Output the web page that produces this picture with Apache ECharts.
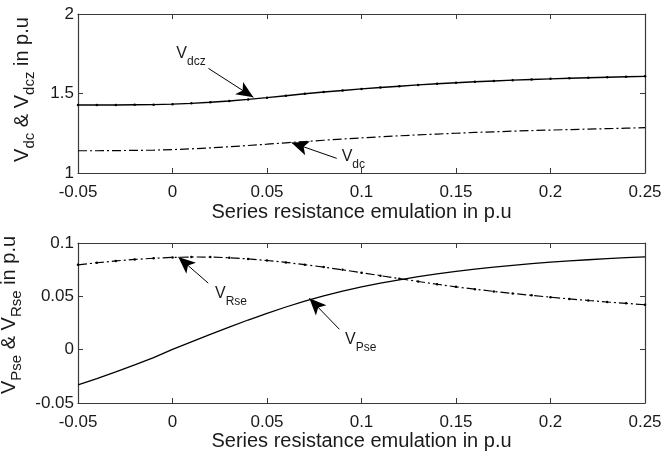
<!DOCTYPE html>
<html>
<head>
<meta charset="utf-8">
<script src="https://cdn.jsdelivr.net/npm/echarts@6/dist/echarts.min.js"></script>
<style>
html, body { margin: 0; padding: 0; background: #fff; }
#chart { width: 663px; height: 454px; }
</style>
</head>
<body>
<div id="chart"></div>
<script>
// Series resistance emulation (p.u), sampled every 0.01
const resistance = [-0.05, -0.04, -0.03, -0.02, -0.01, 0, 0.01, 0.02, 0.03, 0.04,
  0.05, 0.06, 0.07, 0.08, 0.09, 0.10, 0.11, 0.12, 0.13, 0.14,
  0.15, 0.16, 0.17, 0.18, 0.19, 0.20, 0.21, 0.22, 0.23, 0.24, 0.25];

// Upper panel: DC-link voltages (p.u)
const vdcz = [1.428, 1.428, 1.428, 1.429, 1.430, 1.433, 1.438, 1.445, 1.453, 1.463,
  1.474, 1.486, 1.498, 1.509, 1.519, 1.529, 1.538, 1.546, 1.554, 1.561,
  1.568, 1.574, 1.579, 1.584, 1.588, 1.592, 1.596, 1.599, 1.602, 1.605, 1.608];
const vdc = [1.140, 1.140, 1.141, 1.142, 1.144, 1.147, 1.152, 1.158, 1.165, 1.173,
  1.181, 1.190, 1.198, 1.206, 1.214, 1.221, 1.228, 1.234, 1.240, 1.245,
  1.250, 1.255, 1.259, 1.263, 1.267, 1.270, 1.273, 1.276, 1.279, 1.282, 1.285];

// Lower panel: series converter voltage components (p.u)
const vrse = [0.0795, 0.0815, 0.0832, 0.0846, 0.0857, 0.0865, 0.0869, 0.0868, 0.0862, 0.0851,
  0.0836, 0.0818, 0.0797, 0.0774, 0.0749, 0.0722, 0.0694, 0.0666, 0.0639, 0.0613,
  0.0589, 0.0567, 0.0546, 0.0527, 0.0509, 0.0492, 0.0476, 0.0461, 0.0447, 0.0434, 0.0421];
const vpse = [-0.0330, -0.0271, -0.0209, -0.0143, -0.0074, 0.0003, 0.0074, 0.0144, 0.0212, 0.0278,
  0.0341, 0.0400, 0.0455, 0.0504, 0.0548, 0.0588, 0.0623, 0.0655, 0.0684, 0.0710,
  0.0734, 0.0755, 0.0774, 0.0791, 0.0806, 0.0820, 0.0832, 0.0843, 0.0853, 0.0862, 0.0870];

// Tick labels
const xTickLabels = ['-0.05', '0', '0.05', '0.1', '0.15', '0.2', '0.25'];
const topYTickLabels = ['1', '1.5', '2'];
const bottomYTickLabels = ['-0.05', '0', '0.05', '0.1'];

const xTitle = 'Series resistance emulation in p.u';

const FONT = '"Liberation Sans", Arial, sans-serif';
const INK = '#1a1a1a';
const FRAME = '#3a3a3a';

function pairs(ys) { return resistance.map((x, i) => [x, ys[i]]); }
function pickLabel(list) {
  return v => {
    const s = String(+v.toFixed(2));
    return list.indexOf(s) >= 0 ? s : '';
  };
}

// Rich styles giving a lowered, smaller subscript after the main glyphs
const subRich = {
  m: { fontSize: 20, lineHeight: 20, verticalAlign: 'top', fontFamily: FONT, color: INK },
  s: { fontSize: 15, lineHeight: 25, verticalAlign: 'bottom', fontFamily: FONT, color: INK }
};
const noteRich = {
  m: { fontSize: 16, lineHeight: 16, verticalAlign: 'top', fontFamily: FONT, color: INK },
  s: { fontSize: 12, lineHeight: 22, verticalAlign: 'bottom', fontFamily: FONT, color: INK }
};

function xAxes(gridIndex, gap) {
  return [{
    type: 'value', gridIndex, min: -0.05, max: 0.25, interval: 0.05,
    position: 'bottom',
    name: xTitle, nameLocation: 'middle', nameGap: gap,
    nameTextStyle: { fontSize: 20, fontFamily: FONT, color: INK },
    axisLine: { onZero: false, lineStyle: { color: FRAME, width: 1.2 } },
    axisTick: { inside: true, length: 5, lineStyle: { color: FRAME } },
    axisLabel: { margin: 11, fontSize: 17, fontFamily: FONT, color: INK, formatter: pickLabel(xTickLabels) },
    splitLine: { show: false }
  }, {
    type: 'value', gridIndex, min: -0.05, max: 0.25, interval: 0.05,
    position: 'top',
    axisLine: { onZero: false, lineStyle: { color: FRAME, width: 1.2 } },
    axisTick: { inside: true, length: 5, lineStyle: { color: FRAME } },
    axisLabel: { show: false },
    splitLine: { show: false }
  }];
}

function yAxes(gridIndex, min, max, interval, labels, name, lift) {
  return [{
    type: 'value', gridIndex, min, max, interval,
    position: 'left',
    name, nameLocation: 'middle', nameGap: 41, nameRotate: 90,
    nameTextStyle: { rich: subRich, padding: [0, 0, 0, lift] },
    axisLine: { onZero: false, lineStyle: { color: FRAME, width: 1.2 } },
    axisTick: { inside: true, length: 5, lineStyle: { color: FRAME } },
    axisLabel: { margin: 4, fontSize: 17, fontFamily: FONT, color: INK, formatter: pickLabel(labels) },
    splitLine: { show: false }
  }, {
    type: 'value', gridIndex, min, max, interval,
    position: 'right',
    axisLine: { onZero: false, lineStyle: { color: FRAME, width: 1.2 } },
    axisTick: { inside: true, length: 5, lineStyle: { color: FRAME } },
    axisLabel: { show: false },
    splitLine: { show: false }
  }];
}

// Annotation arrow (from label towards curve) plus its subscripted label
function note(from, to, textAt, text) {
  return {
    markLine: {
      silent: true, animation: false,
      symbol: ['none', 'arrow'], symbolSize: [11, 17],
      lineStyle: { color: '#000', width: 1, type: 'solid' },
      label: { show: false },
      data: [[{ coord: from }, { coord: to }]]
    },
    markPoint: {
      silent: true, animation: false,
      symbol: 'circle', symbolSize: 0,
      label: { show: true, position: 'right', distance: 0, formatter: text, rich: noteRich },
      data: [{ coord: textAt }]
    }
  };
}

const DASHDOT = [9, 3, 2, 3];

const option = {
  animation: false,
  backgroundColor: '#fff',
  grid: [
    { left: 78, right: 18, top: 14, height: 159, outerBoundsMode: 'none', containLabel: false },
    { left: 78, right: 18, top: 243, height: 160, outerBoundsMode: 'none', containLabel: false }
  ],
  xAxis: [...xAxes(0, 29), ...xAxes(1, 27)],
  yAxis: [
    ...yAxes(0, 1, 2, 0.5, topYTickLabels, '{m|V}{s|dc}{m| & V}{s|dcz}{m| in p.u}', 8),
    ...yAxes(1, -0.05, 0.1, 0.05, bottomYTickLabels, '{m|V}{s|Pse}{m| & V}{s|Rse}{m| in p.u}', 16)
  ],
  series: [
    Object.assign({
      name: 'Vdcz', type: 'line', xAxisIndex: 0, yAxisIndex: 0,
      data: pairs(vdcz),
      symbol: 'circle', symbolSize: 2.5, showSymbol: true,
      itemStyle: { color: '#000' },
      lineStyle: { color: '#000', width: 1.4 }
    }, note([0.019, 1.658], [0.0428, 1.476], [0.002, 1.73], '{m|V}{s|dcz}')),
    Object.assign({
      name: 'Vdc', type: 'line', xAxisIndex: 0, yAxisIndex: 0,
      data: pairs(vdc), showSymbol: false,
      lineStyle: { color: '#000', width: 1.2, type: DASHDOT }
    }, note([0.0869, 1.092], [0.063, 1.191], [0.0895, 1.084], '{m|V}{s|dc}')),
    Object.assign({
      name: 'VRse', type: 'line', xAxisIndex: 2, yAxisIndex: 2,
      data: pairs(vrse),
      symbol: 'circle', symbolSize: 2.5, showSymbol: true,
      itemStyle: { color: '#000' },
      lineStyle: { color: '#000', width: 1.2, type: DASHDOT }
    }, note([0.0189, 0.0624], [0.0031, 0.0868], [0.0225, 0.0495], '{m|V}{s|Rse}')),
    Object.assign({
      name: 'VPse', type: 'line', xAxisIndex: 2, yAxisIndex: 2,
      data: pairs(vpse), showSymbol: false,
      lineStyle: { color: '#000', width: 1.3 }
    }, note([0.0883, 0.0191], [0.0724, 0.0482], [0.0913, 0.0062], '{m|V}{s|Pse}'))
  ]
};

const chart = echarts.init(document.getElementById('chart'), null, { renderer: 'canvas' });
chart.setOption(option);
</script>
</body>
</html>
